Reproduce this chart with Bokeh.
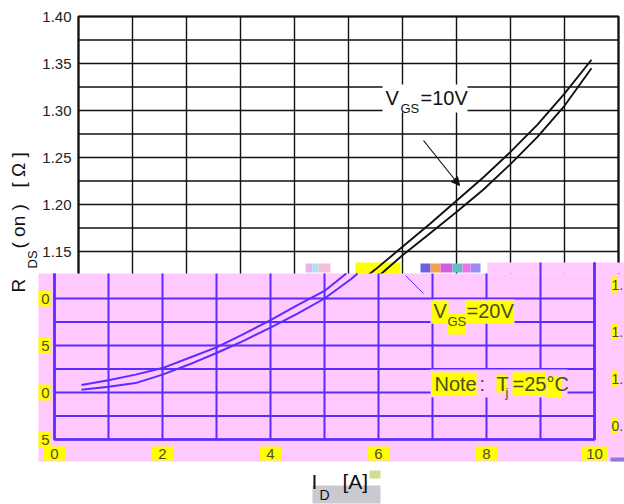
import numpy as np
from bokeh.plotting import figure
from bokeh.models import Range1d, Arrow, NormalHead
from bokeh.core.properties import value
from bokeh.embed import file_html
from bokeh.resources import INLINE

# ---------------- data ----------------
id_amps = [0.5, 1.0, 1.5, 2.0, 2.5, 3.0, 3.5, 4.0, 4.5, 5.0,
           5.5, 6.0, 6.5, 7.0, 7.5, 8.0, 8.5, 9.0, 9.5]
rds_vgs10 = [1.008, 1.013, 1.019, 1.026, 1.037, 1.048, 1.062, 1.077, 1.093, 1.108,
             1.131, 1.155, 1.179, 1.204, 1.229, 1.256, 1.285, 1.318, 1.354]
rds_vgs20 = [1.003, 1.006, 1.010, 1.019, 1.030, 1.042, 1.055, 1.069, 1.084, 1.100,
             1.121, 1.146, 1.169, 1.192, 1.216, 1.243, 1.272, 1.305, 1.345]

x_grid = [0, 1, 2, 3, 4, 5, 6, 7, 8, 9, 10]
x_tick_values = [0, 2, 4, 6, 8, 10]
x_tick_labels = ["0", "2", "4", "6", "8", "10"]
y_grid = [0.95, 0.975, 1.00, 1.025, 1.05, 1.075, 1.10, 1.125, 1.15, 1.175,
          1.20, 1.225, 1.25, 1.275, 1.30, 1.325, 1.35, 1.375, 1.40]
y_tick_values = [0.95, 1.00, 1.05, 1.10, 1.15, 1.20, 1.25, 1.30, 1.35, 1.40]
y_tick_labels = ["0.95", "1.00", "1.05", "1.10", "1.15", "1.20", "1.25", "1.30", "1.35", "1.40"]

# ---------------- layout (page pixels -> data) ----------------
ORIGIN_PX, PX_PER_A = 78, 54
TOP_PX, PX_PER_OHM, Y_TOP = 16, 940, 1.40
def X(px):
    return (px - ORIGIN_PX) / PX_PER_A
def Y(py):
    return Y_TOP - (py - TOP_PX) / PX_PER_OHM

SHIFT = -24 / PX_PER_A          # the pink copy is drawn 24px further left
PINK_TOP = Y(273)
PINK_TOP_R = Y(262)
PINK_RIGHT_START = X(487)

FONT = value("Liberation Sans")
BLACK = "#111111"
BLUE = "#5b2cff"
PINK = "#ffc8ff"
YELLOW = "#ffff00"
OLIVE = "#4d4d26"

p = figure(width=624, height=504, output_backend="svg", toolbar_location=None,
           x_range=Range1d(X(0), X(624)), y_range=Range1d(Y(504), Y(0)),
           x_axis_type=None, y_axis_type=None, min_border=0,
           outline_line_color=None, background_fill_color="white",
           border_fill_color="white")

xmin, xmax = x_grid[0], x_grid[-1]
ymin, ymax = y_grid[0], y_grid[-1]


def label(xs, ys, texts, size, color, align="left", angle=0.0):
    p.text(x=xs, y=ys, text=texts, text_font=FONT, text_font_size=size,
           text_align=align, text_baseline="middle", text_color=color, angle=angle)


# ---------------- top (white) chart ----------------
p.segment(x0=[xmin] * len(y_grid), x1=[xmax] * len(y_grid), y0=y_grid, y1=y_grid,
          line_color=BLACK, line_width=1.4)
p.segment(x0=x_grid, x1=x_grid, y0=[ymin] * len(x_grid), y1=[ymax] * len(x_grid),
          line_color=BLACK, line_width=1.4)
p.line(x=[xmin, xmin, xmax, xmax, xmin], y=[ymin, ymax, ymax, ymin, ymin],
       line_color=BLACK, line_width=2.2)
label([X(71)] * len(y_tick_values), y_tick_values, y_tick_labels, "15px", "#222222",
      align="right")

# glitch strip just above the pink area
p.quad(left=[X(355)], right=[X(400)], top=[PINK_TOP_R], bottom=[PINK_TOP],
       fill_color=YELLOW, line_color=None)
p.quad(left=[X(305), X(312), X(318)], right=[X(312), X(318), X(330)],
       top=[Y(263)] * 3, bottom=[Y(272)] * 3,
       fill_color=["#e9b3f2", "#a8e6f0", "#f2c0d8"], line_color=None)
p.quad(left=[X(420), X(430), X(440), X(452), X(462), X(470)],
       right=[X(430), X(440), X(452), X(462), X(470), X(480)],
       top=[Y(263)] * 6, bottom=[Y(272)] * 6,
       fill_color=["#6f5fe0", "#f0a050", "#d060e0", "#60c0c0", "#f070f0", "#9a8cf0"],
       line_color=None)

p.line(x=id_amps, y=rds_vgs10, line_color=BLACK, line_width=1.9)
p.line(x=id_amps, y=rds_vgs20, line_color=BLACK, line_width=1.9)

# V_GS = 10 V label
p.quad(left=[X(382)], right=[X(467)], top=[Y(84)], bottom=[Y(112)],
       fill_color="white", line_color=None)
label([X(385), X(420)], [Y(97), Y(97)], ["V", "=10V"], "20px", BLACK)
label([X(400)], [Y(108)], ["GS"], "13px", BLACK)
p.add_layout(Arrow(end=NormalHead(size=8, fill_color=BLACK, line_color=BLACK),
                   x_start=X(423), y_start=Y(140), x_end=X(459), y_end=Y(185),
                   line_color=BLACK, line_width=1.2))

# ---------------- pink overlay ----------------
p.quad(left=[X(38), X(487)], right=[X(624), X(624)],
       top=[PINK_TOP, PINK_TOP_R], bottom=[Y(461), PINK_TOP],
       fill_color=PINK, line_color=None)

bx = [v + SHIFT for v in x_grid]
vtops = [PINK_TOP_R if v >= PINK_RIGHT_START else PINK_TOP for v in bx]
p.segment(x0=bx, x1=bx, y0=[ymin] * len(bx), y1=vtops, line_color=BLUE, line_width=2)
hy = [v for v in y_grid if v <= 1.10 + 1e-9]
p.segment(x0=[xmin + SHIFT] * len(hy), x1=[xmax + SHIFT] * len(hy), y0=hy, y1=hy,
          line_color=BLUE, line_width=2)
hy_r = [v for v in y_grid if PINK_TOP < v < PINK_TOP_R]
p.segment(x0=[PINK_RIGHT_START] * len(hy_r), x1=[xmax + SHIFT] * len(hy_r),
          y0=hy_r, y1=hy_r, line_color=BLUE, line_width=2)
p.line(x=[xmin + SHIFT, xmin + SHIFT, xmax + SHIFT, xmax + SHIFT],
       y=[PINK_TOP, ymin, ymin, PINK_TOP_R], line_color=BLUE, line_width=2.6)


def below(xs, ys, ylim):
    ox, oy = [], []
    for i in range(len(xs)):
        if ys[i] <= ylim:
            ox.append(xs[i]); oy.append(ys[i])
        else:
            if i > 0:
                t = (ylim - ys[i - 1]) / (ys[i] - ys[i - 1])
                ox.append(xs[i - 1] + t * (xs[i] - xs[i - 1])); oy.append(ylim)
            break
    return ox, oy


for series in (rds_vgs10, rds_vgs20):
    cx, cy = below(id_amps, series, PINK_TOP)
    p.line(x=[v + SHIFT for v in cx], y=cy, line_color=BLUE, line_width=2)

p.segment(x0=[X(405)], y0=[Y(275)], x1=[X(423)], y1=[Y(293)],
          line_color=BLUE, line_width=1)

# V_GS = 20 V label
p.quad(left=[X(430)], right=[X(514)], top=[Y(299)], bottom=[Y(323)],
       fill_color=PINK, line_color=None)
p.quad(left=[X(431), X(447), X(465)], right=[X(448), X(465), X(513)],
       top=[Y(300), Y(313), Y(300)], bottom=[Y(323), Y(334), Y(323)],
       fill_color=YELLOW, line_color=None)
label([X(433), X(466)], [Y(310), Y(310)], ["V", "=20V"], "20px", OLIVE)
label([X(447)], [Y(321)], ["GS"], "13px", OLIVE)

# Note label
p.quad(left=[X(430)], right=[X(567)], top=[Y(369)], bottom=[Y(397)],
       fill_color=PINK, line_color=None)
p.quad(left=[X(431), X(496), X(512), X(546)], right=[X(476), X(506), X(545), X(561)],
       top=[Y(372), Y(374), Y(372), Y(376)], bottom=[Y(395), Y(392), Y(395), Y(397)],
       fill_color=YELLOW, line_color=None)
label([X(434), X(479), X(496), X(512)], [Y(383)] * 4, ["Note", ":", "T", "=25°C"],
      "20px", OLIVE)
label([X(505)], [Y(392)], ["j"], "13px", OLIVE)

# pink x tick labels
xt = [v + SHIFT for v in x_tick_values]
half = [0.2 if len(t) == 1 else 0.25 for t in x_tick_labels]
p.quad(left=[a - h for a, h in zip(xt, half)], right=[a + h for a, h in zip(xt, half)],
       top=[Y(446)] * len(xt), bottom=[Y(460)] * len(xt),
       fill_color=YELLOW, line_color=None)
label(xt, [Y(453)] * len(xt), x_tick_labels, "15px", OLIVE, align="center")
p.quad(left=[X(610)], right=[X(624)], top=[Y(457)], bottom=[Y(461)],
       fill_color="#8f78e0", line_color=None)

# pink y tick labels: only the fragments left visible at both edges
low_vals = [v for v in y_tick_values if v <= 1.10 + 1e-9]
low_labels = [t for v, t in zip(y_tick_values, y_tick_labels) if v <= 1.10 + 1e-9]
p.quad(left=[X(38)] * len(low_vals), right=[X(50)] * len(low_vals),
       top=[v + 8 / PX_PER_OHM for v in low_vals], bottom=[v - 8 / PX_PER_OHM for v in low_vals],
       fill_color=YELLOW, line_color=None)
label([X(49)] * len(low_vals), low_vals, [t[-1] for t in low_labels], "15px", OLIVE,
      align="right")

r_off = 14 / PX_PER_OHM
p.quad(left=[X(611)] * len(low_vals), right=[X(617)] * len(low_vals),
       top=[v + r_off + 8 / PX_PER_OHM for v in low_vals],
       bottom=[v + r_off - 8 / PX_PER_OHM for v in low_vals],
       fill_color=YELLOW, line_color=None)
label([X(611)] * len(low_vals), [v + r_off for v in low_vals],
      [t[:2] for t in low_labels], "14px", OLIVE)

# ---------------- axis titles ----------------
p.quad(left=[X(312)], right=[X(380)], top=[Y(485)], bottom=[Y(503)],
       fill_color="#c9c9d1", line_color=None)
p.quad(left=[X(369)], right=[X(380)], top=[Y(470)], bottom=[Y(478)],
       fill_color="#cfe08a", line_color=None)
label([X(311), X(342)], [Y(481), Y(481)], ["I", "[A]"], "21px", BLACK)
label([X(319)], [Y(494)], ["D"], "14px", BLACK)

label([X(18), X(18), X(18)], [Y(292), Y(248), Y(187)], ["R", "( on )", "[  Ω  ]"],
      "19px", BLACK, angle=np.pi / 2)
label([X(32)], [Y(268)], ["DS"], "13px", BLACK, angle=np.pi / 2)

open("out.html", "w").write(file_html(p, INLINE))
